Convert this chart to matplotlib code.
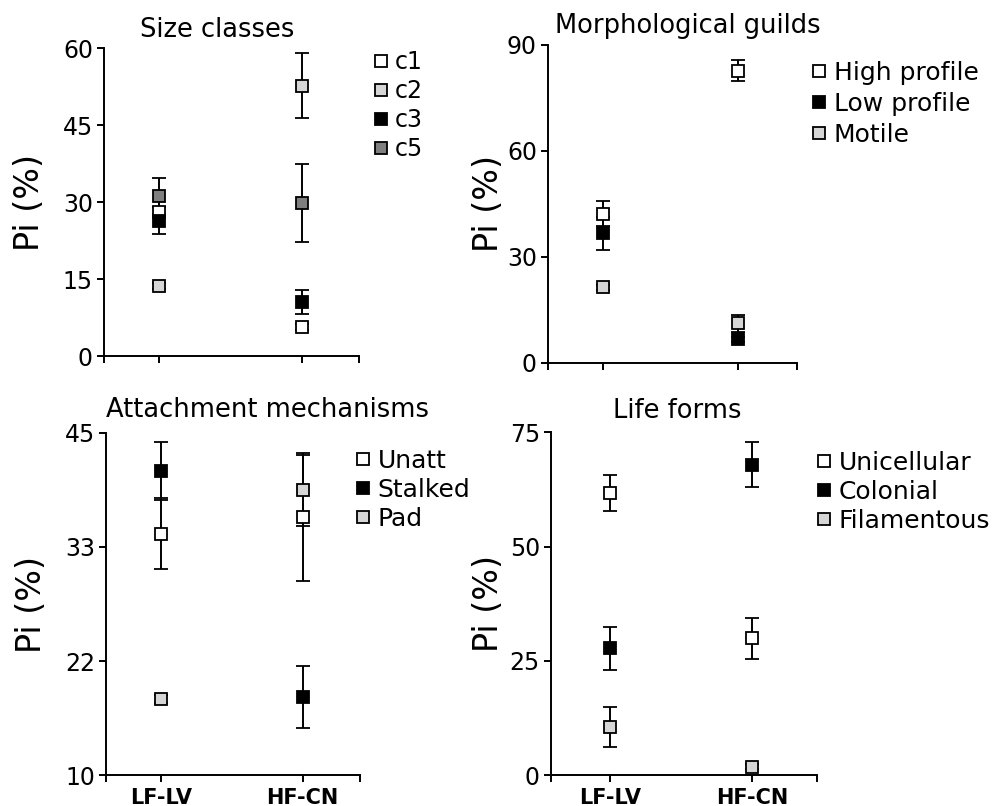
import matplotlib
matplotlib.use("Agg")
import matplotlib.pyplot as plt
import numpy as np

plt.rcParams['font.family'] = ['DejaVu Sans']

groups = ["LF-LV", "HF-CN"]

# Size classes
size_labels = ["c1", "c2", "c3", "c5"]
size_vals = [[28.0, 5.7], [13.7, 52.7], [26.4, 10.5], [31.2, 29.9]]
size_err = [[1.0, 0.6], [0.6, 6.4], [2.7, 2.4], [3.5, 7.6]]

# Morphological guilds
morph_labels = ["High profile", "Low profile", "Motile"]
morph_vals = [[42.2, 82.6], [36.6, 6.6], [21.3, 11.1]]
morph_err = [[3.5, 3.0], [4.7, 0.8], [0.8, 2.4]]

# Attachment mechanisms
att_labels = ["Unatt", "Stalked", "Pad"]
att_vals = [[34.7, 36.4], [41.1, 18.0], [17.8, 39.1]]
att_err = [[3.6, 6.5], [3.0, 3.2], [0.4, 3.6]]

# Life forms
life_labels = ["Unicellular", "Colonial", "Filamentous"]
life_vals = [[61.7, 30.0], [27.8, 67.9], [10.6, 1.9]]
life_err = [[3.9, 4.5], [4.7, 4.9], [4.4, 0.5]]

WHITE, LIGHT, BLACK, DARK = "#ffffff", "#d6d6d6", "#000000", "#7f7f7f"

panels = [
    dict(title="Size classes", labels=size_labels, vals=size_vals, err=size_err,
         colors=[WHITE, LIGHT, BLACK, DARK],
         rect=[0.104, 0.5583, 0.255, 0.3821], xlim=(-0.387, 1.401),
         ylim=(0, 60), yticks=[0, 15, 30, 45, 60], yticklabels=["0", "15", "30", "45", "60"],
         title_xy=(217, 37), ylabel_x=-0.228, leg=(374, 50), legfs=17, lsp=0.21,
         xlabels=False),
    dict(title="Morphological guilds", labels=morph_labels, vals=morph_vals, err=morph_err,
         colors=[WHITE, BLACK, LIGHT],
         rect=[0.548, 0.55, 0.249, 0.3945], xlim=(-0.409, 1.439),
         ylim=(0, 90), yticks=[0, 30, 60, 90], yticklabels=["0", "30", "60", "90"],
         title_xy=(688, 33), ylabel_x=-0.173, leg=(811, 61), legfs=18, lsp=0.27,
         xlabels=False),
    dict(title="Attachment mechanisms", labels=att_labels, vals=att_vals, err=att_err,
         colors=[WHITE, BLACK, LIGHT],
         rect=[0.106, 0.0381, 0.254, 0.425], xlim=(-0.388, 1.404),
         ylim=(10, 45), yticks=list(np.linspace(10, 45, 4)), yticklabels=["10", "22", "33", "45"],
         title_xy=(267, 417), ylabel_x=-0.228, leg=(355, 449), legfs=18, lsp=0.2,
         xlabels=True),
    dict(title="Life forms", labels=life_labels, vals=life_vals, err=life_err,
         colors=[WHITE, BLACK, LIGHT],
         rect=[0.551, 0.0381, 0.266, 0.4255], xlim=(-0.418, 1.459),
         ylim=(0, 75), yticks=[0, 25, 50, 75], yticklabels=["0", "25", "50", "75"],
         title_xy=(677, 418), ylabel_x=-0.173, leg=(816, 451), legfs=18, lsp=0.2,
         xlabels=True),
]

fig = plt.figure(figsize=(10, 8.06), dpi=100)
W, H = 1000, 806

for p in panels:
    ax = fig.add_axes(p["rect"])
    x = np.arange(len(groups))
    handles = []
    for lab, v, e, c in zip(p["labels"], p["vals"], p["err"], p["colors"]):
        h = ax.errorbar(x, v, yerr=e, fmt='s', ms=8.5, mfc=c, mec='black', mew=1.3,
                        ecolor='black', elinewidth=1.4, capsize=4.8, capthick=1.4,
                        label=lab, clip_on=False)
        handles.append(h)
    ax.set_xlim(*p["xlim"])
    ax.set_ylim(*p["ylim"])
    ax.spines['top'].set_visible(False)
    ax.spines['right'].set_visible(False)
    for s in ['left', 'bottom']:
        ax.spines[s].set_linewidth(1.4)
    xl, xr = p["xlim"]
    ax.set_xticks([xl, 0, 1, xr])
    if p["xlabels"]:
        ax.set_xticklabels(["", groups[0], groups[1], ""], fontsize=15, fontweight='bold')
    else:
        ax.set_xticklabels(["", "", "", ""])
    ax.set_yticks(p["yticks"])
    ax.set_yticklabels(p["yticklabels"], fontsize=17)
    ax.tick_params(axis='both', length=5, width=1.4, color='black')
    ax.tick_params(axis='y', pad=3)
    ax.tick_params(axis='x', pad=4)
    ax.set_ylabel("Pi (%)", fontsize=24)
    ax.yaxis.set_label_coords(p["ylabel_x"], 0.5)
    fig.text(p["title_xy"][0] / W, 1 - p["title_xy"][1] / H, p["title"], fontsize=18.5,
             ha='center', va='baseline')
    lx, ly = p["leg"]
    ax.legend(handles=[h[0] for h in handles], labels=p["labels"], loc='upper left',
              bbox_to_anchor=(lx / W, 1 - ly / H), bbox_transform=fig.transFigure,
              frameon=False, fontsize=p["legfs"], markerscale=1.0, handlelength=0.6,
              handletextpad=0.3, borderpad=0, borderaxespad=0, labelspacing=p["lsp"])

fig.savefig("out.png", dpi=100)
